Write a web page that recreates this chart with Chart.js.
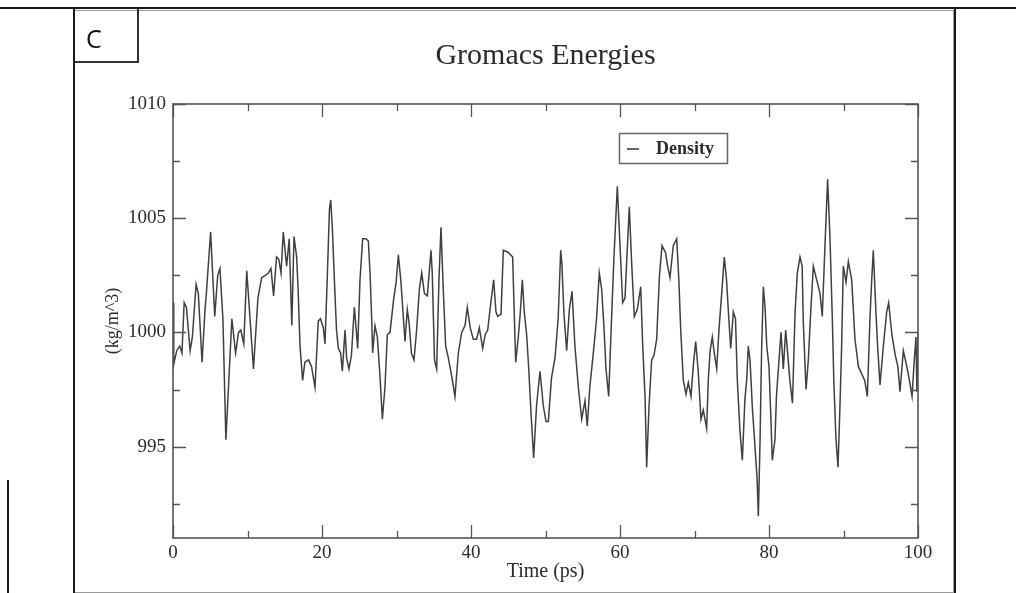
<!DOCTYPE html>
<html>
<head>
<meta charset="utf-8">
<script src="https://cdn.jsdelivr.net/npm/chart.js@4.4.1/dist/chart.umd.min.js"></script>
<style>
  html, body { margin: 0; padding: 0; background: #fff; }
  #wrap { position: relative; width: 1016px; height: 593px; overflow: hidden; }
  #densityChart { position: absolute; left: 0; top: 0; }
  .rule { position: absolute; background: #1a1a1a; }
  #imgEdge { position: absolute; left: 75px; top: 10px; width: 878px; height: 581px; border: 1px solid #9a9a9a; border-left: none; }
  #panelTag { position: absolute; left: 75px; top: 9px; width: 62px; height: 52px;
              border-right: 2px solid #333; border-bottom: 2px solid #333;
              font: 25px "Open Sans", "Liberation Sans", sans-serif; color: #111; }
  #panelTag span { position: absolute; left: 11px; top: 17px; line-height: 1; }
</style>
</head>
<body>
<div id="wrap">
  <canvas id="densityChart" width="1016" height="593"></canvas>
  <div id="imgEdge"></div>
  <div class="rule" style="left:0; top:7px; width:1016px; height:2px;"></div>
  <div class="rule" style="left:73px; top:7px; width:2px; height:586px;"></div>
  <div class="rule" style="left:954px; top:7px; width:2px; height:586px;"></div>
  <div class="rule" style="left:7px; top:480px; width:2px; height:113px;"></div>
  <div id="panelTag"><span>C</span></div>
</div>
<script>
// density trace (ps, kg/m^3)
const timePs = [
  0, 0.1, 0.5, 0.9, 1.2, 1.5, 1.8, 2.3, 2.6, 3.1, 3.4, 3.9, 4.3, 4.5, 5.05, 5.6, 6.0, 6.3, 6.7, 7.1,
  7.9, 8.4, 8.8, 9.1, 9.5, 9.9, 10.3, 10.8, 11.4, 11.9, 12.4, 12.8, 13.15, 13.5, 13.9, 14.2, 14.5, 14.8, 15.25, 15.6,
  15.95, 16.24, 16.6, 16.8, 17.05, 17.4, 17.7, 18.2, 18.6, 19.06, 19.5, 19.8, 20.18, 20.4, 20.7, 21.0, 21.17, 21.4, 21.66, 21.95,
  22.19, 22.5, 22.73, 23.09, 23.3, 23.62, 23.95, 24.34, 24.55, 24.79, 25.1, 25.46, 25.9, 26.22, 26.45, 26.67, 26.8, 27.11, 27.43, 27.8,
  28.1, 28.45, 28.77, 29.13, 29.6, 29.95, 30.25, 30.6, 30.83, 31.14, 31.45, 31.7, 32.0, 32.35, 32.7, 33.07, 33.38, 33.75, 34.14, 34.63,
  34.8, 35.1, 35.39, 35.7, 35.97, 36.3, 36.6, 36.95, 37.4, 37.85, 38.3, 38.75, 39.2, 39.5, 39.9, 40.31, 40.75, 41.12, 41.57, 41.9,
  42.24, 42.7, 43.04, 43.35, 43.58, 44.03, 44.34, 45.01, 45.59, 45.8, 46.0, 46.35, 46.6, 46.89, 47.15, 47.47, 47.75, 48.05, 48.41, 48.8,
  49.26, 49.7, 50.07, 50.38, 50.8, 51.28, 51.7, 52.04, 52.2, 52.48, 52.84, 53.2, 53.56, 53.95, 54.41, 54.86, 55.3, 55.61, 55.95, 56.51,
  56.85, 57.22, 57.54, 57.85, 58.12, 58.48, 58.9, 59.19, 59.64, 60.0, 60.36, 60.67, 61.0, 61.25, 61.57, 61.92, 62.32, 62.78, 63.05, 63.36,
  63.58, 63.9, 64.25, 64.56, 64.92, 65.3, 65.64, 66.1, 66.4, 66.71, 67.15, 67.61, 67.9, 68.15, 68.5, 68.86, 69.17, 69.53, 69.85, 70.16,
  70.5, 70.87, 71.18, 71.63, 71.85, 72.1, 72.39, 72.65, 72.98, 73.3, 73.65, 74.0, 74.3, 74.55, 74.86, 75.21, 75.5, 75.75, 76.1, 76.42,
  76.77, 77.0, 77.22, 77.45, 77.75, 78.1, 78.4, 78.57, 78.8, 79.0, 79.24, 79.47, 79.7, 80.0, 80.26, 80.44, 80.8, 81.0, 81.3, 81.61,
  81.92, 82.24, 82.5, 82.8, 83.15, 83.5, 83.8, 84.16, 84.45, 84.6, 84.97, 85.28, 85.6, 85.95, 86.4, 86.85, 87.15, 87.5, 87.87, 88.18,
  88.5, 88.7, 88.98, 89.26, 89.5, 89.75, 89.97, 90.34, 90.65, 91.1, 91.54, 92.0, 92.57, 92.85, 93.2, 93.55, 93.77, 94.0, 94.35, 94.58,
  94.9, 95.35, 95.8, 96.06, 96.5, 96.95, 97.3, 97.58, 98.03, 98.5, 98.85, 99.2, 99.5, 99.73, 99.85, 100
];
const density = [
  1001.3, 998.6, 999.2, 999.4, 999.1, 1001.3, 1001.1, 999.2, 999.8, 1002.1, 1001.7, 998.7, 1001.0, 1001.8, 1004.4, 1000.7, 1002.5, 1002.8, 1000.6, 995.3,
  1000.6, 999.1, 1000.0, 1000.1, 999.5, 1002.7, 1000.8, 998.4, 1001.5, 1002.4, 1002.5, 1002.6, 1002.8, 1001.6, 1003.3, 1003.2, 1002.6, 1004.4, 1002.9, 1004.1,
  1000.3, 1004.2, 1003.3, 1001.8, 999.4, 997.9, 998.7, 998.8, 998.5, 997.6, 1000.5, 1000.6, 1000.2, 999.5, 1002.3, 1005.4, 1005.8, 1004.5, 1002.3, 1000.1,
  999.3, 999.1, 998.3, 1000.1, 998.9, 998.4, 999.0, 1001.1, 1000.3, 999.3, 1002.3, 1004.1, 1004.1, 1004.0, 1002.6, 1000.6, 999.1, 1000.3, 999.8, 998.0,
  996.2, 997.6, 999.9, 1000.0, 1001.4, 1002.2, 1003.4, 1002.2, 1001.1, 999.6, 1001.0, 1000.4, 999.1, 998.8, 1000.1, 1001.9, 1002.6, 1001.7, 1001.6, 1003.6,
  1002.6, 998.8, 998.4, 1002.3, 1004.6, 1001.7, 999.4, 998.9, 998.1, 997.2, 999.1, 1000.0, 1000.3, 1001.1, 1000.2, 999.7, 999.7, 1000.2, 999.3, 999.9,
  1000.1, 1001.4, 1002.3, 1000.9, 1000.7, 1000.8, 1003.6, 1003.5, 1003.3, 1000.9, 998.7, 999.8, 1000.8, 1002.3, 1000.9, 999.9, 998.4, 996.5, 994.5, 996.8,
  998.3, 996.8, 996.1, 996.1, 998.0, 998.9, 1000.6, 1003.6, 1003.0, 1000.8, 999.2, 1001.0, 1001.8, 999.4, 997.6, 996.2, 997.0, 995.9, 997.6, 999.4,
  1000.6, 1002.6, 1001.9, 1000.2, 998.4, 997.2, 1000.9, 1003.3, 1006.4, 1003.8, 1001.3, 1001.5, 1003.8, 1005.5, 1003.0, 1000.7, 1001.0, 1002.0, 999.4, 997.2,
  994.1, 996.8, 998.8, 999.0, 999.7, 1002.5, 1003.8, 1003.5, 1002.9, 1002.4, 1003.8, 1004.1, 1002.3, 1000.1, 997.9, 997.3, 997.8, 997.2, 998.6, 999.6,
  998.3, 996.2, 996.6, 995.8, 997.9, 999.2, 999.8, 999.1, 998.4, 1000.2, 1001.7, 1003.3, 1002.3, 1000.9, 999.3, 1000.9, 1000.6, 997.9, 995.7, 994.4,
  997.1, 997.9, 999.4, 998.8, 996.8, 995.1, 993.6, 991.95, 995.3, 999.1, 1002.0, 1001.1, 999.4, 998.5, 996.2, 994.4, 995.3, 997.2, 998.6, 1000.0,
  998.4, 1000.1, 999.1, 997.9, 996.9, 1000.9, 1002.6, 1003.3, 1002.9, 1000.5, 997.5, 998.8, 1000.9, 1002.9, 1002.3, 1001.7, 1000.7, 1003.7, 1006.7, 1004.2,
  1000.6, 997.9, 995.4, 994.1, 996.5, 999.4, 1002.9, 1002.2, 1003.1, 1002.3, 999.7, 998.5, 998.1, 997.9, 997.2, 1000.6, 1002.2, 1003.6, 1000.9, 999.4,
  997.7, 999.4, 1000.9, 1001.3, 999.9, 999.0, 998.5, 997.4, 999.2, 998.5, 997.9, 997.2, 998.8, 999.8, 997.4, 1000.0
];

const xMajor = [0, 20, 40, 60, 80, 100];
const xMinor = [10, 30, 50, 70, 90];
const yMajor = [995, 1000, 1005, 1010];
const yMinor = [992.5, 997.5, 1002.5, 1007.5];

const serif = '"Liberation Serif", "Times New Roman", serif';
const inkColor = '#2b2b2b';
const axisColor = '#555555';

// xmgrace-like frame: box round the plot with inward ticks on all four sides
const graceFrame = {
  id: 'graceFrame',
  afterDatasetsDraw(chart) {
    const { ctx, chartArea: a, scales: { x, y } } = chart;
    ctx.save();
    ctx.strokeStyle = axisColor;
    ctx.lineWidth = 1.6;
    ctx.strokeRect(a.left, a.top, a.right - a.left, a.bottom - a.top);
    ctx.lineWidth = 1.3;
    ctx.beginPath();
    const xt = (vals, len) => vals.forEach(v => {
      const px = Math.round(x.getPixelForValue(v)) + 0.5;
      ctx.moveTo(px, a.bottom); ctx.lineTo(px, a.bottom - len);
      ctx.moveTo(px, a.top); ctx.lineTo(px, a.top + len);
    });
    const yt = (vals, len) => vals.forEach(v => {
      const py = Math.round(y.getPixelForValue(v)) + 0.5;
      ctx.moveTo(a.left, py); ctx.lineTo(a.left + len, py);
      ctx.moveTo(a.right, py); ctx.lineTo(a.right - len, py);
    });
    xt(xMajor, 13); xt(xMinor, 7);
    yt(yMajor, 13); yt(yMinor, 7);
    ctx.stroke();
    ctx.restore();
  }
};

// boxed legend in the upper part of the plot
const boxLegend = {
  id: 'boxLegend',
  afterDraw(chart) {
    const { ctx } = chart;
    const ds = chart.data.datasets[0];
    ctx.save();
    ctx.strokeStyle = '#666';
    ctx.lineWidth = 1.5;
    ctx.strokeRect(619.5, 133.5, 108, 30);
    ctx.strokeStyle = ds.borderColor;
    ctx.lineWidth = 1.6;
    ctx.beginPath();
    ctx.moveTo(627, 149); ctx.lineTo(639, 149);
    ctx.stroke();
    ctx.fillStyle = inkColor;
    ctx.font = 'bold 18px ' + serif;
    ctx.textBaseline = 'middle';
    ctx.fillText(ds.label, 656, 149);
    ctx.restore();
  }
};

new Chart(document.getElementById('densityChart'), {
  type: 'line',
  data: {
    datasets: [{
      label: 'Density',
      data: timePs.map((t, i) => ({ x: t, y: density[i] })),
      borderColor: '#404040',
      borderWidth: 1.5,
      pointRadius: 0,
      tension: 0,
      fill: false
    }]
  },
  options: {
    responsive: false,
    animation: false,
    layout: { padding: { left: 100, right: 98, top: 0, bottom: 0 } },
    plugins: {
      legend: { display: false },
      tooltip: { enabled: false },
      title: {
        display: true,
        text: 'Gromacs Energies',
        fullSize: false,
        color: inkColor,
        font: { family: serif, size: 30, weight: 'normal' },
        padding: { top: 38, bottom: 30 }
      }
    },
    scales: {
      x: {
        type: 'linear',
        min: 0,
        max: 100,
        grid: { display: false, drawTicks: false },
        border: { display: false },
        afterBuildTicks: s => { s.ticks = xMajor.map(v => ({ value: v })); },
        afterFit: s => { s.height = 55; },
        ticks: { color: inkColor, padding: 4, font: { family: serif, size: 19 }, maxRotation: 0,
                 callback: v => String(v) },
        title: {
          display: true,
          text: 'Time (ps)',
          color: inkColor,
          font: { family: serif, size: 20 },
          padding: { top: 0, bottom: 9 }
        }
      },
      y: {
        type: 'linear',
        min: 991,
        max: 1010,
        grid: { display: false, drawTicks: false },
        border: { display: false },
        afterBuildTicks: s => { s.ticks = yMajor.map(v => ({ value: v })); },
        afterFit: s => { s.width = 73; },
        ticks: { color: inkColor, padding: 7, font: { family: serif, size: 19 },
                 callback: v => String(v) },
        title: {
          display: true,
          text: '(kg/m^3)',
          color: inkColor,
          font: { family: serif, size: 18 },
          padding: { top: 2, bottom: 2 }
        }
      }
    }
  },
  plugins: [graceFrame, boxLegend]
});
</script>
</body>
</html>
